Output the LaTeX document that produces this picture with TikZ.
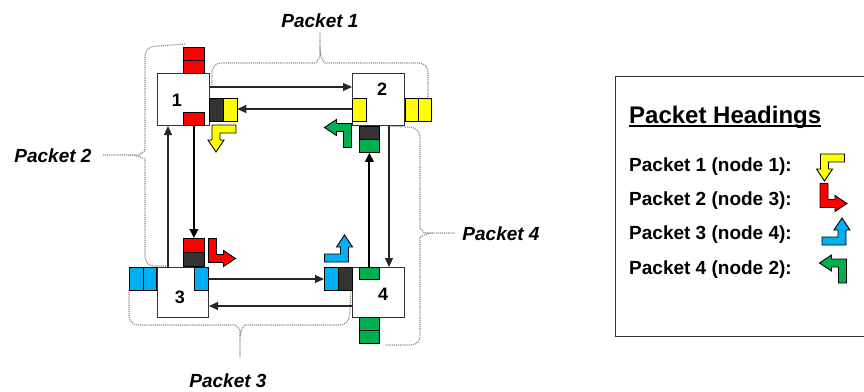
\documentclass[tikz,border=0pt]{standalone}
\usepackage{fontspec}
\setmainfont{Liberation Sans}
\usetikzlibrary{arrows.meta}
\definecolor{cred}{RGB}{255,0,0}
\definecolor{cyel}{RGB}{255,255,0}
\definecolor{cblu}{RGB}{0,176,240}
\definecolor{cgrn}{RGB}{0,176,80}
\definecolor{cdrk}{RGB}{51,51,51}
\definecolor{brc}{RGB}{135,135,135}
\tikzset{
  nodebox/.style={draw=black!80, line width=1pt, fill=white, minimum width=52pt, minimum height=52pt, inner sep=0pt, anchor=north west},
  cell/.style={draw=black, line width=0.8pt, inner sep=0pt, anchor=north west},
  hcell/.style={cell, minimum width=13.5pt, minimum height=23pt},
  vcell/.style={cell, minimum width=21pt, minimum height=13pt},
  conn/.style={draw=black!85, line width=1.1pt, -{Triangle[length=9pt,width=8pt]}},
  heavyconn/.style={draw=black, line width=2pt, -{Triangle[length=9pt,width=8.5pt]}},
  bracep/.style={draw=brc, densely dotted, line width=1.1pt, rounded corners=9pt},
  plabel/.style={font=\fontsize{19}{22}\selectfont\bfseries\itshape, inner sep=0pt},
  nlabel/.style={font=\fontsize{18}{21}\selectfont\bfseries, inner sep=0pt},
  legtext/.style={font=\fontsize{19}{22}\selectfont\bfseries, inner sep=0pt, anchor=west},
  pics/bentarrow/.style={code={
    \filldraw[fill=#1, draw=black, line width=0.9pt, line join=miter]
      (0,0) -- (0,-24) -- (8,-24) -- (8,-8) -- (15,-8) -- (15,-12) -- (27,-4) -- (15,4) -- (15,0) -- cycle;
  }}
}
\begin{document}
\begin{tikzpicture}[x=1pt,y=-1pt]
\useasboundingbox (0,0) rectangle (864,391);

% braces
\draw[bracep] (212,87) -- (212,63) -- (306,63) .. controls (316,63) and (320,58) .. (320,47) -- (320,32)
  (320,47) .. controls (320,58) and (324,63) .. (334,63) -- (428,63) -- (428,97);
\draw[bracep] (185,44) -- (145,47) -- (145,142) .. controls (145,150) and (140,155) .. (130,155) -- (103,155)
  (130,155) .. controls (140,155) and (145,160) .. (145,168) -- (145,266) -- (168,266);
\draw[bracep] (129,290) -- (129,325) -- (226,325) .. controls (236,325) and (240,330) .. (240,340) -- (240,358)
  (240,340) .. controls (240,330) and (244,325) .. (254,325) -- (349,325) -- (351,290);
\draw[bracep] (390,126) -- (420,128) -- (420,220) .. controls (420,228) and (425,233) .. (433,233) -- (455,233)
  (433,233) .. controls (425,233) and (420,238) .. (420,246) -- (420,345) -- (385,345);

% node boxes
\node[nodebox] (n1) at (157,73) {};
\node[nodebox] (n2) at (352,73) {};
\node[nodebox, minimum width=51pt, minimum height=50pt] (n3) at (157,267) {};
\node[nodebox, minimum height=50pt] (n4) at (352,267) {};
\node[nlabel] (l1) at (177,100) {1};
\node[nlabel] (l2) at (382,89) {2};
\node[nlabel] (l3) at (180,297) {3};
\node[nlabel] (l4) at (383,294) {4};

% cells
\node[vcell, fill=cred] (r1a) at (183,47) {};
\node[vcell, fill=cred] (r1b) at (183,60) {};
\node[vcell, fill=cred] (r1c) at (183,112) {};
\node[hcell, fill=cdrk, minimum width=14pt] (d1) at (209,98) {};
\node[hcell, fill=cyel] (y1) at (223,98) {};
\node[hcell, fill=cyel, minimum width=14pt] (y2) at (352,98) {};
\node[hcell, fill=cyel, minimum width=13pt] (y2a) at (405,98) {};
\node[hcell, fill=cyel, minimum width=13pt] (y2b) at (418,98) {};
\node[vcell, fill=cdrk, minimum width=20pt] (d2) at (359,126) {};
\node[vcell, fill=cgrn, minimum width=20pt] (g2) at (359,139) {};
\node[vcell, fill=cred, minimum height=14pt] (r3) at (183,238) {};
\node[vcell, fill=cdrk, minimum height=14pt] (d3) at (183,252) {};
\node[hcell, fill=cblu] (b3a) at (129,267) {};
\node[hcell, fill=cblu] (b3b) at (142.5,267) {};
\node[hcell, fill=cblu, minimum width=14pt] (b3c) at (194,267) {};
\node[hcell, fill=cblu] (b4) at (324,267) {};
\node[hcell, fill=cdrk, minimum width=14pt] (d4) at (337.5,267) {};
\node[vcell, fill=cgrn, minimum width=20pt, minimum height=12pt] (g4) at (359,267) {};
\node[vcell, fill=cgrn, minimum width=20pt] (g4a) at (359,317) {};
\node[vcell, fill=cgrn, minimum width=20pt] (g4b) at (359,330) {};

% connectors
\draw[conn] (n1.east |- 0,87) -- (n2.west |- 0,87);
\draw[conn] (n2.west |- 0,109) -- (y1.east |- 0,109);
\draw[conn] (n3.north -| 168,0) -- (n1.south -| 168,0);
\draw[heavyconn] (r1c.south) -- (r3.north);
\draw[conn] (n3.east |- 0,279) -- (b4.west |- 0,279);
\draw[conn] (n4.west |- 0,306) -- (n3.east |- 0,306);
\draw[heavyconn] (g4.north) -- (g2.south);
\draw[conn] (n2.south -| 389,0) -- (n4.north -| 389,0);

% bent arrows in the ring
\pic[rotate=-90] at (212,125) {bentarrow=cyel};
\pic at (208.5,262.5) {bentarrow=cred};
\pic[rotate=90] at (348.5,262) {bentarrow=cblu};
\pic[rotate=180] at (351.5,123.5) {bentarrow=cgrn};

% labels
\node[plabel] (p1) at (320,21) {Packet 1};
\node[plabel] (p2) at (53,156) {Packet 2};
\node[plabel] (p3) at (228,381) {Packet 3};
\node[plabel] (p4) at (501,234) {Packet 4};

% legend
\draw[draw=black!80, line width=1pt] (864,76) -- (615,76) -- (615,336) -- (864,336);
\node[font=\fontsize{24}{28}\selectfont\bfseries, anchor=west, inner sep=0pt] (title) at (629,117) {Packet Headings};
\draw[line width=1.6pt] ([yshift=-3pt]title.base west) -- ([yshift=-3pt]title.base east);
\node[legtext] (e1) at (629,167) {Packet 1 (node 1):};
\node[legtext] (e2) at (629,201) {Packet 2 (node 3):};
\node[legtext] (e3) at (629,235) {Packet 3 (node 4):};
\node[legtext] (e4) at (629,270) {Packet 4 (node 2):};
\pic[rotate=-90] at (820.5,154) {bentarrow=cyel};
\pic at (820,207.5) {bentarrow=cred};
\pic[rotate=90] at (846,245) {bentarrow=cblu};
\pic[rotate=180] at (846.5,259) {bentarrow=cgrn};
\end{tikzpicture}
\end{document}
